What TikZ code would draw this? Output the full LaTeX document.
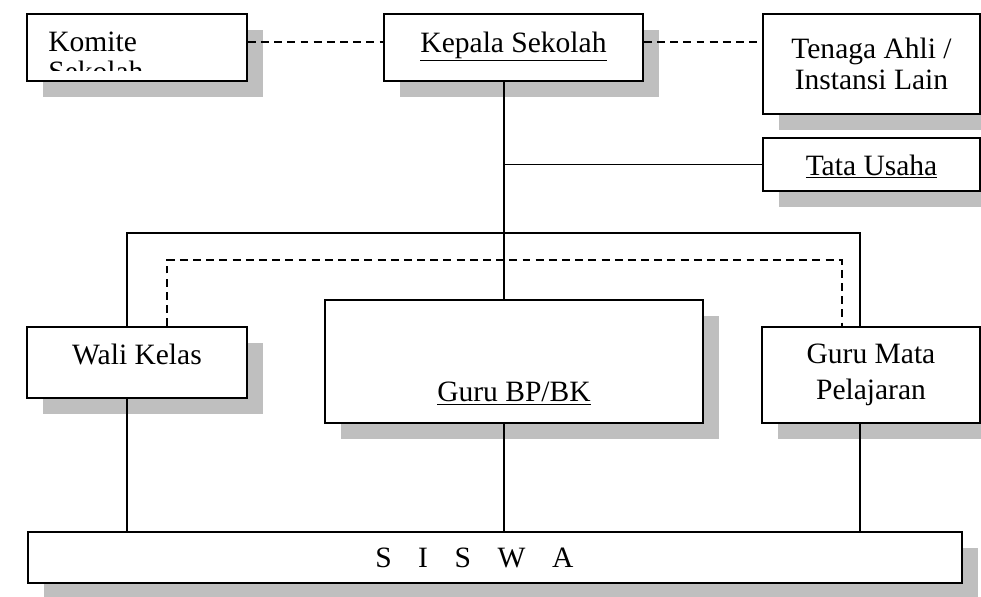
\documentclass[tikz,border=0pt]{standalone}
\usepackage{fontspec}
\setmainfont{Liberation Serif}
\usetikzlibrary{shadows}
\definecolor{bayang}{HTML}{BFBFBF}
\tikzset{kotak/.style={draw, line width=1pt, fill=white, inner sep=0pt, align=center,
		font=\fontsize{16.8}{17.5}\selectfont,
		drop shadow={shadow xshift=0.32cm, shadow yshift=-0.32cm, fill=bayang, opacity=1}},
	teks/.style={inner sep=0pt, font=\fontsize{16.8}{17.5}\selectfont},
	garis/.style={line width=0.8pt},
	putus/.style={line width=0.8pt, dash pattern=on 4.5pt off 3pt}}
% teks digeser tanpa mengubah ukuran kotak
\newcommand{\geser}[2]{\raisebox{#1}[0pt][0pt]{#2}}

\begin{document}
\begin{tikzpicture}[x=0.02cm, y=-0.02cm]
	\useasboundingbox (0,0) rectangle (981,597);

	% kotak-kotak
	\node[kotak, minimum width=4.4cm, minimum height=1.34cm] (komite) at (137,47.5) {};
	\node[kotak, minimum width=5.18cm, minimum height=1.34cm] (kepala) at (513.5,47.5)
		{\geser{-2.6pt}{\underline{Kepala Sekolah}}};
	\node[kotak, minimum width=4.34cm, minimum height=2cm] (tenaga) at (871.5,64)
		{Tenaga Ahli /\\Instansi Lain};
	\node[kotak, minimum width=4.34cm, minimum height=1.06cm] (tata) at (871.5,164.5)
		{\geser{-6pt}{\underline{Tata Usaha}}};
	\node[kotak, minimum width=4.4cm, minimum height=1.42cm] (wali) at (137,362.5)
		{\geser{-1.4pt}{Wali Kelas}};
	\node[kotak, minimum width=7.56cm, minimum height=2.46cm] (bp) at (514,361.5)
		{\geser{-23pt}{\underline{Guru BP/BK}}};
	\node[kotak, minimum width=4.36cm, minimum height=1.92cm,
		font=\fontsize{16.8}{20.5}\selectfont] (gmp) at (871,375)
		{Guru Mata\\Pelajaran};
	\node[kotak, minimum width=18.68cm, minimum height=1.02cm] (siswa) at (495,557.5)
		{S\hspace{0.9em}I\hspace{0.9em}S\hspace{0.9em}W\hspace{0.9em}A\hspace{1.4em}};

	% teks komite terpotong
	\begin{scope}
		\clip (29,16) rectangle (245,71);
		\node[teks, anchor=base west] (komite1) at (48,52) {Komite};
		\node[teks, anchor=base west] (komite2) at (48,82) {Sekolah};
	\end{scope}

	% titik bantu
	\coordinate (tengah) at (504,164.5);
	\coordinate (kiri) at (127,233);
	\coordinate (kanan) at (860,233);
	\coordinate (dkiri) at (167,260);
	\coordinate (dkanan) at (842,260);
	\coordinate (atas) at (0,42);

	% garis putus-putus
	\draw[putus] (komite.east |- atas) -- (kepala.west |- atas);
	\draw[putus] (kepala.east |- atas) -- (tenaga.west |- atas);
	\draw[putus] (wali.north -| dkiri) |- (dkanan) -- (gmp.north -| dkanan);

	% garis komando
	\draw[garis] (kepala.south -| tengah) -- (bp.north -| tengah);
	\draw[garis] (tengah) -- (tengah -| tata.west);
	\draw[garis] (wali.north -| kiri) |- (kanan) -- (gmp.north -| kanan);
	\draw[garis] (wali.south -| kiri) -- (siswa.north -| kiri);
	\draw[garis] (bp.south -| tengah) -- (siswa.north -| tengah);
	\draw[garis] (gmp.south -| kanan) -- (siswa.north -| kanan);
\end{tikzpicture}
\end{document}
